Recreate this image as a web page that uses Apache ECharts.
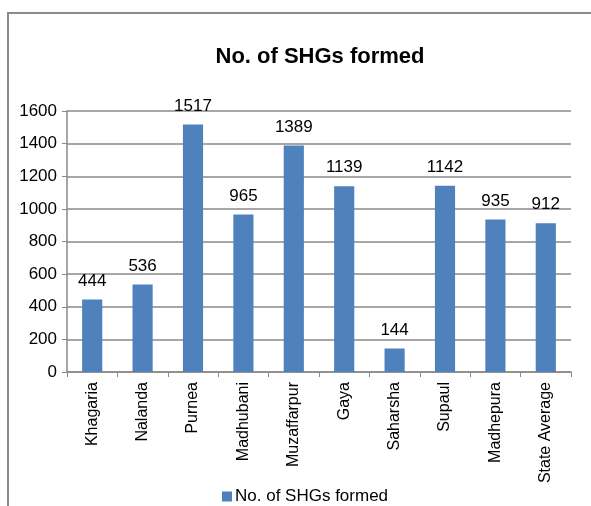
<!DOCTYPE html>
<html>
<head>
<meta charset="utf-8">
<script src="https://cdn.jsdelivr.net/npm/echarts@6/dist/echarts.min.js"></script>
<style>
  html, body { margin: 0; padding: 0; background: #fff; }
  #chart { width: 591px; height: 506px; }
</style>
</head>
<body>
<div id="chart"></div>
<script>
var categories = ['Khagaria', 'Nalanda', 'Purnea', 'Madhubani', 'Muzaffarpur', 'Gaya', 'Saharsha', 'Supaul', 'Madhepura', 'State Average'];
var shgsFormed = [444, 536, 1517, 965, 1389, 1139, 144, 1142, 935, 912];
var seriesName = 'No. of SHGs formed';

var chart = echarts.init(document.getElementById('chart'));
var font = 'Liberation Sans, Arial, sans-serif';

chart.setOption({
    animation: false,
    textStyle: { fontFamily: font },
    graphic: [{
        type: 'rect',
        shape: { x: 8, y: 13, width: 640, height: 600 },
        style: { fill: 'none', stroke: '#8a8a8a', lineWidth: 2 }
    }],
    title: {
        text: 'No. of SHGs formed',
        left: 315,
        textAlign: 'center',
        top: 41,
        textStyle: { fontSize: 22, fontWeight: 'bold', color: '#000', fontFamily: font }
    },
    legend: {
        data: [seriesName],
        bottom: -4,
        left: 217,
        icon: 'rect',
        itemWidth: 10,
        itemHeight: 10,
        itemGap: 4,
        textStyle: { fontSize: 17, color: '#000', fontFamily: font, padding: [0, 0, 0, -2] }
    },
    grid: {
        left: 67,
        right: 20,
        top: 111,
        bottom: 134
    },
    xAxis: {
        type: 'category',
        data: categories,
        axisLine: { lineStyle: { color: '#8a8a8a', width: 1.5 } },
        axisTick: { show: true, length: 5, lineStyle: { color: '#8a8a8a' } },
        axisLabel: {
            rotate: 90,
            interval: 0,
            margin: 10,
            fontSize: 16,
            color: '#000',
            fontFamily: font
        }
    },
    yAxis: {
        type: 'value',
        min: 0,
        max: 1600,
        interval: 200,
        axisLine: { show: true, lineStyle: { color: '#8a8a8a', width: 1.5 } },
        axisTick: { show: true, length: 5, lineStyle: { color: '#8a8a8a' } },
        axisLabel: {
            fontSize: 17,
            color: '#000',
            margin: 10,
            fontFamily: font,
            formatter: function (v) { return String(v); }
        },
        splitLine: { lineStyle: { color: '#8a8a8a', width: 1.5 } }
    },
    series: [{
        name: seriesName,
        type: 'bar',
        data: shgsFormed,
        barWidth: '40%',
        itemStyle: { color: '#4F81BD' },
        label: {
            show: true,
            position: 'top',
            distance: 10,
            fontSize: 17,
            color: '#000',
            fontFamily: font
        }
    }]
});
</script>
</body>
</html>
